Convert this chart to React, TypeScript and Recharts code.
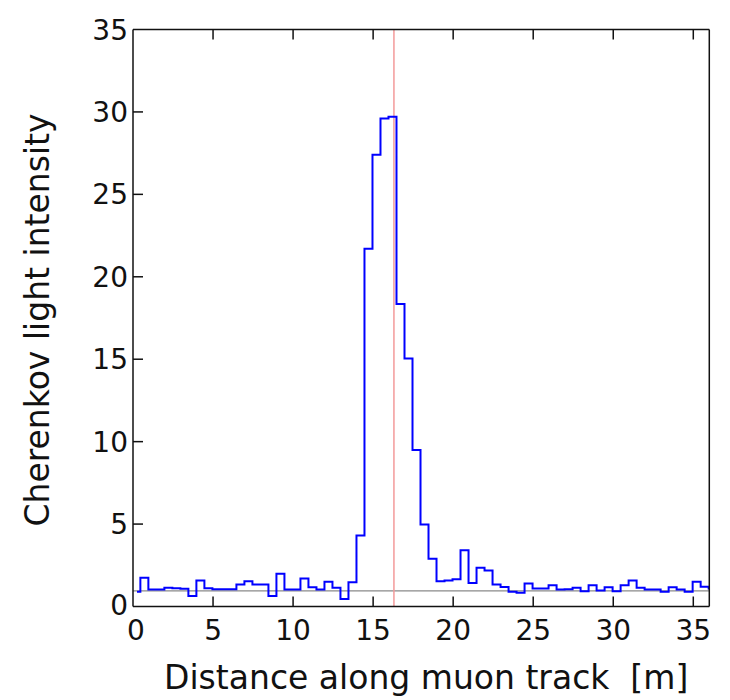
import { LineChart, Line, XAxis, YAxis, ReferenceLine, Label } from 'recharts'

// histogram of light intensity along the track, 0.5 m bins
const binStart = -0.04
const binWidth = 0.5
const traceStart = 0.25
const traceEnd = 36
const intensity = [
  0.9, 1.74, 1.03, 1.03, 1.13, 1.1, 1.07, 0.63, 1.58, 1.1,
  1.05, 1.05, 1.05, 1.33, 1.53, 1.33, 1.33, 0.63, 1.98, 1.03,
  1.03, 1.7, 1.17, 1.03, 1.5, 1.13, 0.45, 1.47, 4.3, 21.7,
  27.4, 29.6, 29.7, 18.35, 15.05, 9.5, 4.97, 2.89, 1.53, 1.58,
  1.65, 3.41, 1.43, 2.35, 2.18, 1.33, 1.19, 0.89, 0.83, 1.39,
  1.09, 1.09, 1.29, 1.03, 1.05, 1.13, 0.93, 1.29, 0.97, 1.17,
  0.93, 1.29, 1.58, 1.13, 1.03, 1.03, 0.89, 1.17, 1.03, 0.9,
  1.5, 1.2, 1.09,
]
const xTicks = [0, 5, 10, 15, 20, 25, 30, 35]
const yTicks = [0, 5, 10, 15, 20, 25, 30, 35]
const peakPosition = 16.3
const baselineLevel = 0.95

const data = [
  { x: traceStart, y: intensity[0] },
  ...intensity.slice(1).map((v, i) => ({ x: binStart + (i + 1) * binWidth, y: v })),
  { x: traceEnd, y: intensity[intensity.length - 1] },
]

const FONT = '"DejaVu Sans", sans-serif'
const TICK_LEN = 10
const TICK_FONT = 28
const LABEL_FONT = 33
const INK = '#111'

function BottomTick({ x, y, payload }: any) {
  const v = payload.value
  return (
    <g>
      {v > 0 && <line x1={x} x2={x} y1={y} y2={y - TICK_LEN} stroke={INK} strokeWidth={1.5} />}
      <text x={x + (v === 0 ? 3 : 0)} y={y + 33} textAnchor="middle" fontFamily={FONT} fontSize={TICK_FONT} fill={INK}>
        {v}
      </text>
    </g>
  )
}

function TopTick({ x, y, payload }: any) {
  if (payload.value <= 0) return <g />
  return <line x1={x} x2={x} y1={y} y2={y + TICK_LEN} stroke={INK} strokeWidth={1.5} />
}

function LeftTick({ x, y, payload }: any) {
  const v = payload.value
  return (
    <g>
      {v > 0 && v < 35 && <line x1={x} x2={x + TICK_LEN} y1={y} y2={y} stroke={INK} strokeWidth={1.5} />}
      <text x={x - 5} y={y - (v === 0 ? 2 : 0)} dy="0.36em" textAnchor="end" fontFamily={FONT} fontSize={TICK_FONT} fill={INK}>
        {v}
      </text>
    </g>
  )
}

function RightTick({ x, y, payload }: any) {
  const v = payload.value
  if (v <= 0 || v >= 35) return <g />
  return <line x1={x} x2={x - TICK_LEN} y1={y} y2={y} stroke={INK} strokeWidth={1.5} />
}

export default function App() {
  const axisLine = { stroke: INK, strokeWidth: 1.5 }
  return (
    <div style={{ position: 'relative', width: 730, height: 700, margin: '-8px 0 0 -8px', background: '#000' }}>
      <div style={{ position: 'absolute', left: 6, top: 6, right: 3, bottom: 0, background: '#fff' }} />
      <div style={{ position: 'absolute', left: 0, top: 0 }}>
        <LineChart width={730} height={700} data={data} margin={{ top: 28.5, right: 19.7, bottom: 92.5, left: 132 }}>
          <XAxis
            dataKey="x"
            type="number"
            domain={[0, 36]}
            ticks={xTicks}
            height={1}
            tickSize={0}
            tickMargin={0}
            tickLine={false}
            axisLine={axisLine}
            tick={<BottomTick />}
            interval={0}
          >
            <Label
              content={({ viewBox }: any) => (
                <text
                  x={viewBox.x + viewBox.width / 2 + 5}
                  y={viewBox.y + 82}
                  textAnchor="middle"
                  fontFamily={FONT}
                  fontSize={LABEL_FONT}
                  fill={INK}
                  style={{ whiteSpace: 'pre' }}
                >
                  Distance along muon track  [m]
                </text>
              )}
            />
          </XAxis>
          <XAxis
            xAxisId="top"
            orientation="top"
            dataKey="x"
            type="number"
            domain={[0, 36]}
            ticks={xTicks}
            height={1}
            tickSize={0}
            tickMargin={0}
            tickLine={false}
            axisLine={axisLine}
            tick={<TopTick />}
            interval={0}
          />
          <YAxis
            type="number"
            domain={[0, 35]}
            ticks={yTicks}
            width={1}
            tickSize={0}
            tickMargin={0}
            tickLine={false}
            axisLine={axisLine}
            tick={<LeftTick />}
            interval={0}
          >
            <Label
              content={({ viewBox }: any) => {
                const cx = viewBox.x + viewBox.width - 96
                const cy = viewBox.y + viewBox.height / 2 + 2
                return (
                  <text
                    x={cx}
                    y={cy}
                    transform={`rotate(-90 ${cx} ${cy})`}
                    textAnchor="middle"
                    dominantBaseline="central"
                    fontFamily={FONT}
                    fontSize={LABEL_FONT}
                    fill={INK}
                  >
                    Cherenkov light intensity
                  </text>
                )
              }}
            />
          </YAxis>
          <YAxis
            yAxisId="right"
            orientation="right"
            type="number"
            domain={[0, 35]}
            ticks={yTicks}
            width={1}
            tickSize={0}
            tickMargin={0}
            tickLine={false}
            axisLine={axisLine}
            tick={<RightTick />}
            interval={0}
          />
          <ReferenceLine y={baselineLevel} stroke="#8a8a8a" strokeWidth={1.2} />
          <ReferenceLine x={peakPosition} stroke="#f39a9a" strokeWidth={1.5} />
          <Line
            type="stepAfter"
            dataKey="y"
            stroke="#0000ff"
            strokeWidth={2}
            dot={false}
            activeDot={false}
            isAnimationActive={false}
          />
        </LineChart>
      </div>
    </div>
  )
}
